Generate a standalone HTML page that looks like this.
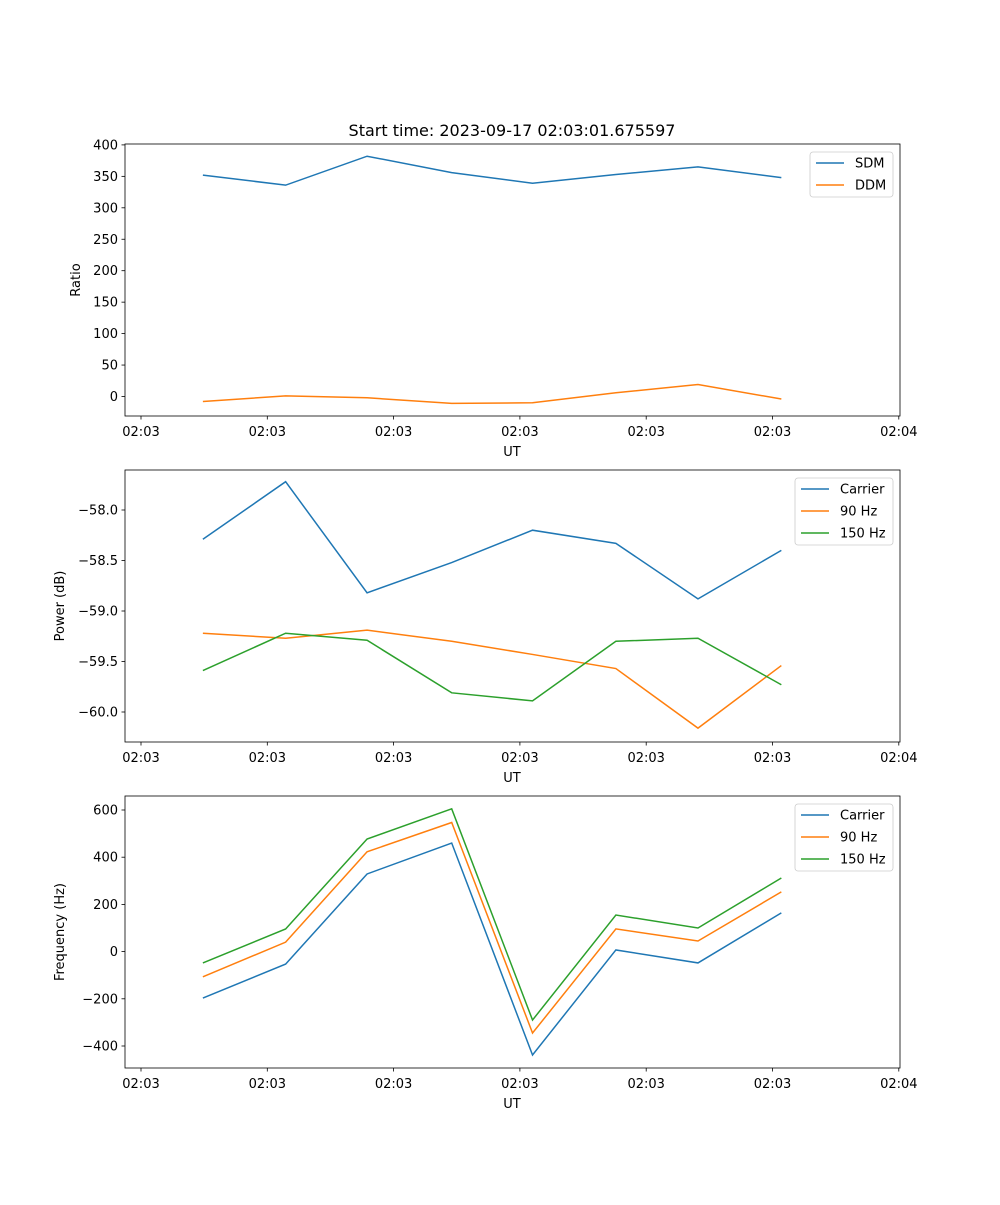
<!DOCTYPE html>
<html><head><meta charset="utf-8"><style>
body{margin:0;background:#fff;}
svg text{font-family:"DejaVu Sans","Liberation Sans",sans-serif;font-size:13px;fill:#000;}
</style></head><body>
<svg id="fig" width="1000" height="1200" xmlns="http://www.w3.org/2000/svg">
<rect width="1000" height="1200" fill="#fff"/>
<text x="512" y="136" text-anchor="middle" style="font-size:16px">Start time: 2023-09-17 02:03:01.675597</text>
</svg>
<script>
const times=[0.49,1.145,1.79,2.46,3.10,3.76,4.41,5.07];
const xTicks=[0,1,2,3,4,5,6];
const xTickLabels=["02:03","02:03","02:03","02:03","02:03","02:03","02:04"];
const sdm=[352,336,382,356,339,353,365,348];
const ddm=[-8,1,-2,-11,-10,6,19,-4];
const pCarrier=[-58.29,-57.72,-58.82,-58.52,-58.20,-58.33,-58.88,-58.40];
const p90=[-59.22,-59.27,-59.19,-59.30,-59.43,-59.57,-60.16,-59.54];
const p150=[-59.59,-59.22,-59.29,-59.81,-59.89,-59.30,-59.27,-59.73];
const fCarrier=[-197,-53,329,460,-438,7,-48,164];
const f90=[-107,40,423,547,-345,96,45,253];
const f150=[-48,96,477,605,-290,155,100,312];
const ticks1=[0,50,100,150,200,250,300,350,400];
const ticks2=[-60.0,-59.5,-59.0,-58.5,-58.0];
const ticks3=[-400,-200,0,200,400,600];
const C=["#1f77b4","#ff7f0e","#2ca02c"];
const svg=document.getElementById('fig');
const NS="http://www.w3.org/2000/svg";
function mk(tag,attrs,parent){const e=document.createElementNS(NS,tag);for(const k in attrs)e.setAttribute(k,attrs[k]);(parent||svg).appendChild(e);return e;}
const X0=125,X1=900;
function xs(t){return 141+t*126.3;}
function panel(name,top,yRef,yTicks,fmt,ylabel,series,names,legW,idx){
  const g=mk('g',{});
  
  
  const ys=v=>yRef.py0+(v-yRef.v0)*yRef.k;
  series.forEach((s,i)=>{
    const p=mk('polyline',{points:s.map((v,j)=>xs(times[j])+','+ys(v)).join(' '),fill:'none',stroke:C[i],'stroke-width':1.5},g);
    
    
  });
  const fr=mk('rect',{x:X0,y:top,width:X1-X0,height:272,fill:'none',stroke:'#000','stroke-width':0.8},g);
  
  
  yTicks.forEach(v=>{const y=ys(v);mk('line',{x1:X0-3.5,x2:X0,y1:y,y2:y,stroke:'#000','stroke-width':0.8},g);
    const t=mk('text',{x:X0-7,y:y+4.5,'text-anchor':'end'},g);t.textContent=fmt(v);
    
    });
  xTicks.forEach((v,i)=>{const x=xs(v);mk('line',{x1:x,x2:x,y1:top+272,y2:top+275.5,stroke:'#000','stroke-width':0.8},g);
    const t=mk('text',{x:x,y:top+292,'text-anchor':'middle'},g);t.textContent=xTickLabels[i];
    
    });
  const xl=mk('text',{x:512,y:top+312,'text-anchor':'middle'},g);xl.textContent='UT';
  
  
  const lx=idx==0?80:64;
  const yl=mk('text',{x:lx,y:top+136,'text-anchor':'middle',transform:`rotate(-90 ${lx} ${top+136})`},g);yl.textContent=ylabel;
  
  
  const lg=mk('g',{},g);
  
  
  const lx0=893-legW;
  mk('rect',{x:lx0,y:top+8,width:legW,height:names.length*22+1,rx:3,fill:'#fff',stroke:'#ccc','stroke-width':0.8},lg);
  names.forEach((n,i)=>{const y=top+19+i*22;
    mk('line',{x1:lx0+6,x2:lx0+34,y1:y,y2:y,stroke:C[i],'stroke-width':1.5},lg);
    const t=mk('text',{x:lx0+45,y:y+4.5},lg);t.textContent=n;
    
    });
}
panel('ratio-panel',144,{py0:396.5,v0:0,k:-0.629},ticks1,v=>String(v),'Ratio',[sdm,ddm],['SDM','DDM'],83,0);
panel('power-panel',470,{py0:510,v0:-58,k:-101},ticks2,v=>'\u2212'.repeat(v<0?1:0)+Math.abs(v).toFixed(1),'Power (dB)',[pCarrier,p90,p150],['Carrier','90 Hz','150 Hz'],98,1);
panel('frequency-panel',796,{py0:951.6,v0:0,k:-0.236},ticks3,v=>(v<0?'\u2212':'')+Math.abs(v),'Frequency (Hz)',[fCarrier,f90,f150],['Carrier','90 Hz','150 Hz'],98,2);
</script>
</body></html>
